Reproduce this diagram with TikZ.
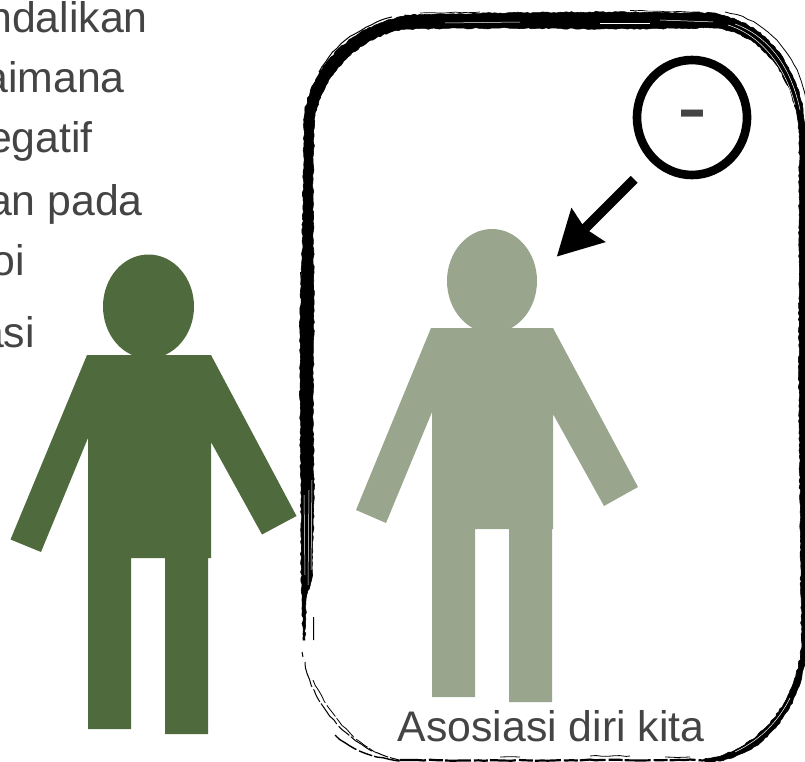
\documentclass[tikz,border=0pt]{standalone}
\usepackage{fontspec}
\setmainfont{Liberation Sans}
\usetikzlibrary{arrows.meta,decorations.pathmorphing,shapes.geometric}
\definecolor{darkfig}{HTML}{4F6A3C}
\definecolor{lightfig}{HTML}{99A68D}
\definecolor{txtgray}{HTML}{444444}
\tikzset{
  label text/.style={inner sep=0pt,text=txtgray,font=\fontsize{42.8}{50}\selectfont},
  side text/.style={label text,anchor=base east},
  brush/.style={fill=black,draw=black,line width=.6pt,decorate,decoration={random steps,segment length=3pt,amplitude=.7pt}},
  strand/.style={draw=black,line width=#1,decorate,decoration={random steps,segment length=6pt,amplitude=.5pt}},
  strand/.default=1pt,
  broken/.style={dash pattern=on 26pt off 3pt on 14pt off 2pt},
  streak/.style={draw=white,line width=.5pt},
  head dark/.style={ellipse,fill=darkfig,inner sep=0pt,minimum width=91pt,minimum height=104pt},
  head light/.style={ellipse,fill=lightfig,inner sep=0pt,minimum width=90pt,minimum height=104pt},
}
\pgfmathsetseed{7}
\begin{document}
\begin{tikzpicture}[x=1pt,y=-1pt]
\useasboundingbox (0,0) rectangle (805,762);
\clip (0,0) rectangle (805,762);
% cropped text on the left
\node[side text] (t1) at (148,33) {ndalikan};
\node[side text] (t2) at (125,93) {aimana};
\node[side text] (t3) at (93,153) {egatif};
\node[side text] (t4) at (143,215) {an pada};
\node[side text] (t5) at (25,275) {oi};
\node[side text] (t6) at (35,347) {asi};
% brush frame: left
\path[brush] (304,120) -- (303,200) -- (302,260) -- (300,320) -- (300,400) -- (301,500) -- (301,560) -- (302,600) -- (303,640)
  -- (305,640) -- (306,600) -- (312,578) -- (313,540) -- (314,500) -- (313,400) -- (314,300) -- (313,200) -- (314,120) -- cycle;
\draw[streak] (304,495) -- (305,575);
\draw[streak] (309,490) -- (308,585);
\draw[streak] (312,480) -- (311,570);
\draw[strand=1pt] (313.5,617) -- (313.5,640);
\draw[strand=1pt] (300.5,272) -- (301,285);
% top left corner
\path[brush] (303.5,125) .. controls (305,72) and (350,22) .. (413,15) -- (413,28)
  .. controls (362,32) and (318,75) .. (314,125) -- cycle;
\draw[strand=1pt] (316,100) .. controls (330,68) and (355,38) .. (385,29);
\draw[strand=1pt] (319,72) .. controls (330,52) and (350,30) .. (392,17);
% top
\path[brush] (405,15) -- (500,13) -- (600,12) -- (715,13) -- (728,18) -- (715,28) -- (600,29) -- (500,28) -- (405,29) -- cycle;
\draw[streak] (445,23) -- (520,22);
\draw[streak] (600,23) -- (650,23);
\draw[streak] (660,20) -- (715,22);
\draw[strand=.7pt] (420,13) -- (480,12);
\draw[strand=.7pt] (630,10.5) -- (700,12);
% top right corner
\path[brush] (713,15) .. controls (765,18) and (803,70) .. (805,130) -- (799,130)
  .. controls (795,78) and (760,30) .. (713,28) -- cycle;
\draw[streak] (728,25) .. controls (760,35) and (785,65) .. (795,105);
\draw[streak] (735,24) .. controls (765,35) and (790,62) .. (800,110);
\draw[strand=.8pt] (725,12) .. controls (770,20) and (803,62) .. (806,105);
% right
\path[brush] (799.5,125) -- (799,250) -- (799,400) -- (800.5,560) -- (801.5,640) -- (807,640) -- (807,125) -- cycle;
% bottom right corner
\path[brush] (801.5,635) .. controls (803,695) and (760,753) .. (705,758.5) -- (705,762)
  .. controls (765,762) and (808,702) .. (807,635) -- cycle;
\draw[strand=1.2pt] (798,685) .. controls (785,715) and (760,745) .. (722,756);
\draw[streak] (790,698) .. controls (778,722) and (760,740) .. (735,752);
% bottom
\draw[strand=2.2pt,broken] (400,760) -- (500,760.5) -- (600,760) -- (710,760);
\draw[strand=.8pt] (500,757) -- (520,757);
\draw[strand=.8pt] (590,756) -- (630,756);
\draw[strand=.8pt] (665,757) -- (690,757);
% bottom left corner
\draw[strand=1pt,broken] (305,662) .. controls (310,700) and (350,752) .. (400,760);
\draw[strand=.8pt,broken] (313,680) .. controls (325,705) and (345,735) .. (375,752);
\draw[strand=1.4pt,broken] (335,735) .. controls (350,748) and (370,757) .. (400,761);
\draw[strand=1pt] (302,652) -- (303,657);
% dark figure
\fill[darkfig] (87,355) -- (211,355) -- (296.5,516) -- (262,534.5) -- (211,442) -- (211,558) -- (208,558) -- (208,734) -- (165,734) -- (165,558)
  -- (131,558) -- (131,729) -- (88,729) -- (88,438) -- (41,552) -- (10.5,539.5) -- cycle;
\node[head dark] (darkhead) at (148.5,306.5) {};
% light figure
\fill[lightfig] (431,328) -- (553,328) -- (638,487) -- (604,506) -- (553,414) -- (553,529) -- (552,529) -- (552,702) -- (509,702) -- (509,529)
  -- (475,529) -- (475,697) -- (432,697) -- (432,412) -- (386,523) -- (356,510) -- cycle;
\node[head light] (lighthead) at (492,281) {};
% sign and arrow
\node[ellipse,draw=black,line width=8.6pt,minimum width=110pt,minimum height=115pt,inner sep=0pt] (sign) at (692,117.5) {};
\node[inner sep=0pt,anchor=base,text=txtgray,font=\fontsize{90}{90}\selectfont] (minus) at (692,138) {-};
\coordinate (arrowfrom) at (634.2,179.3);
\coordinate (arrowto) at (556.7,256.7);
\draw[line width=9.7pt,-{Stealth[length=44pt,width=46pt,inset=4pt]}] (arrowfrom) -- (arrowto);
% caption
\node[label text,anchor=base west] (caption) at (397.5,741.7) {Asosiasi diri kita};
\end{tikzpicture}
\end{document}
